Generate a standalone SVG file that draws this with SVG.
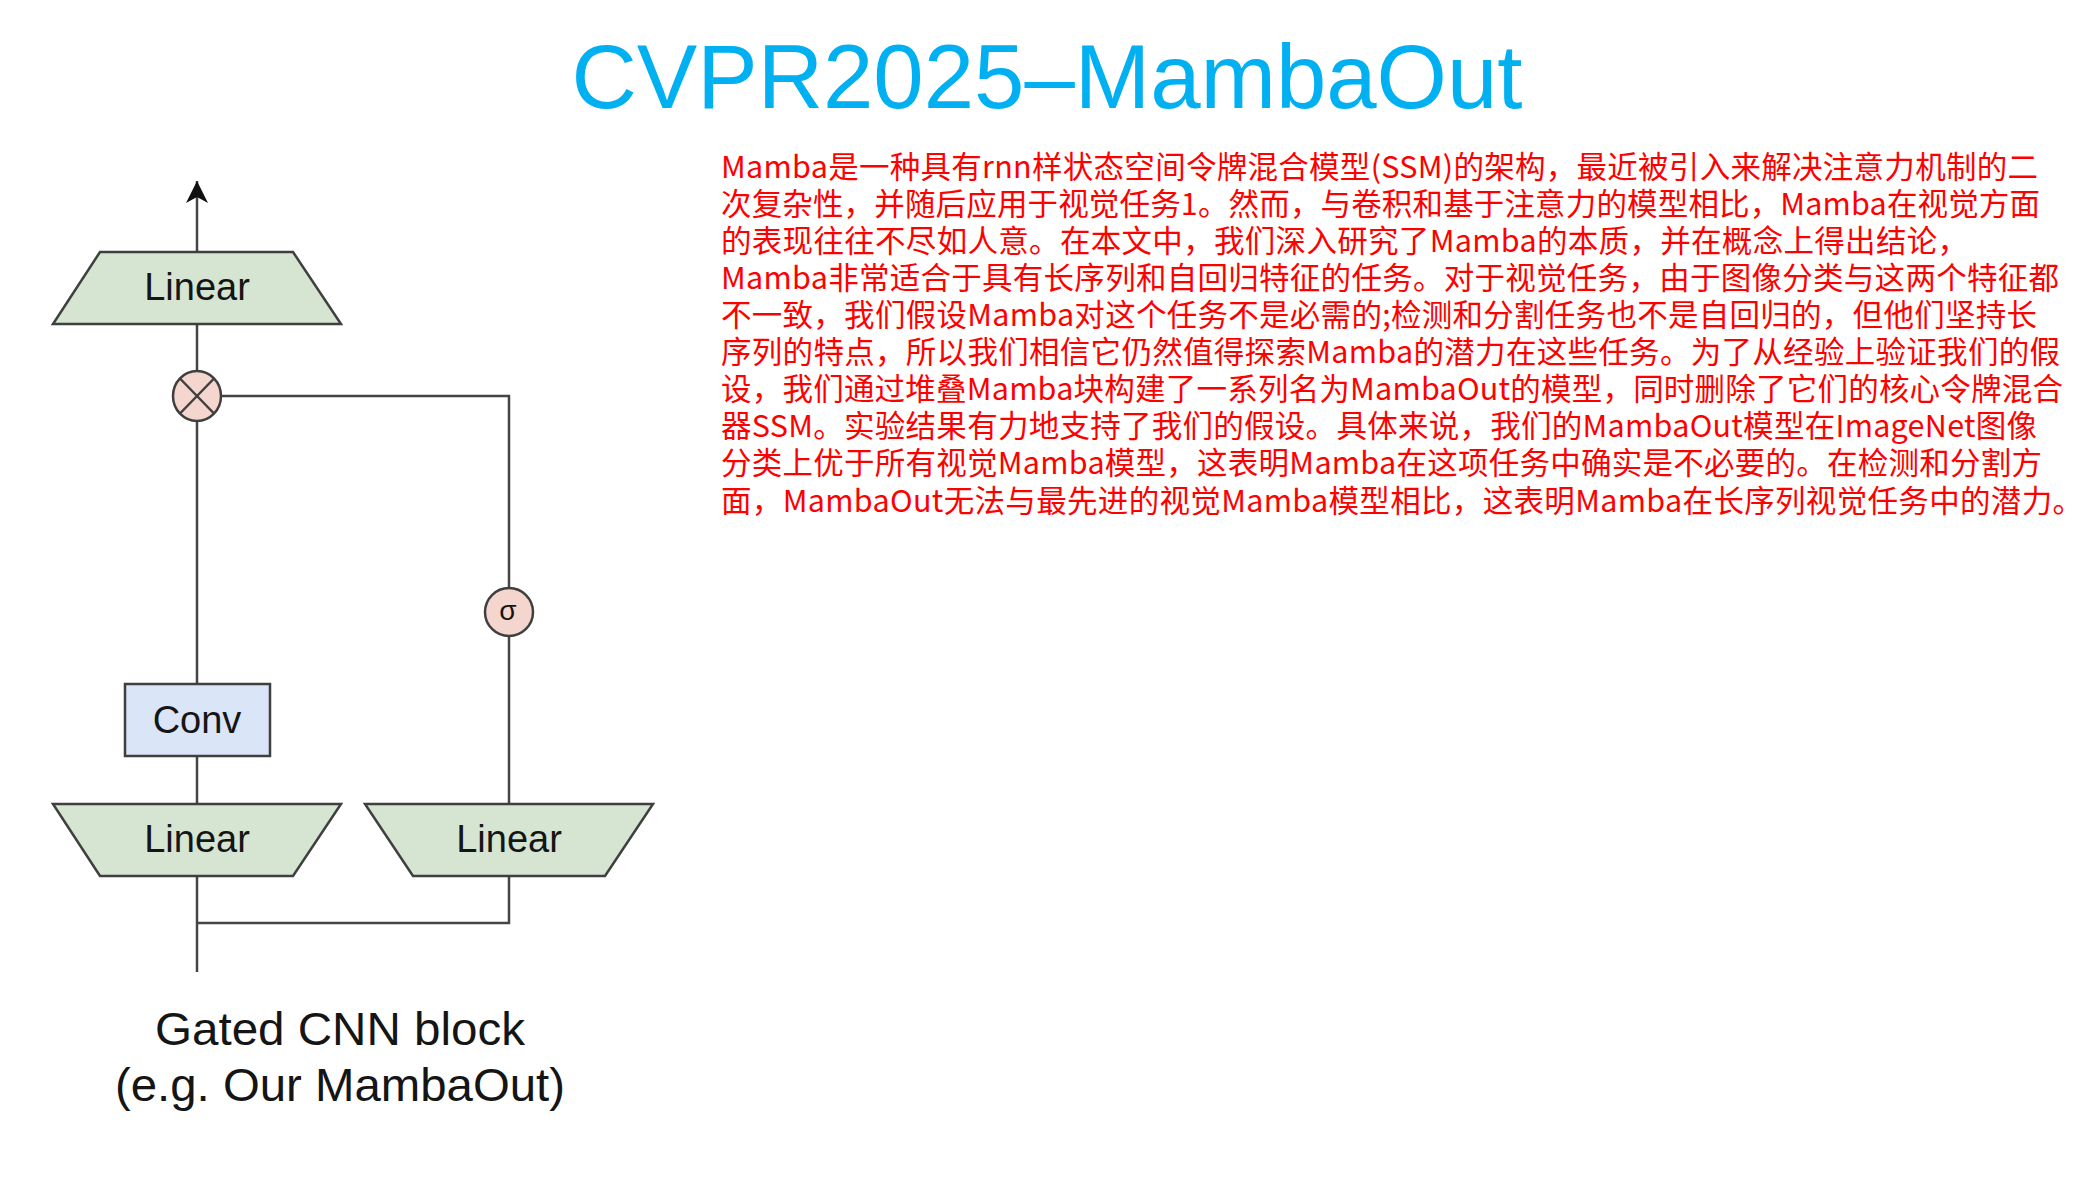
<svg xmlns="http://www.w3.org/2000/svg" width="2094" height="1184" viewBox="0 0 2094 1184">
<style>
.shape{stroke:#3f3f3f;stroke-width:2.5}
.lin{fill:#d6e5d2}
.conv{fill:#dae5f8}
.op{fill:#f5d6cf}
.lbl{font-family:"Liberation Sans",Arial,sans-serif;font-size:38px;fill:#151515;text-anchor:middle}
.cap{font-family:"Liberation Sans",Arial,sans-serif;font-size:46px;fill:#151515;text-anchor:middle}
.wire{stroke:#454545;stroke-width:2.5;fill:none}
.para{font-family:"Noto Sans CJK SC","Noto Sans",sans-serif;font-size:30.5px;fill:#ff0000}
.title{font-family:"Liberation Sans",Arial,sans-serif;font-size:91px;fill:#00b0f0;text-anchor:middle}
</style>
<defs>
<marker id="arrow" viewBox="0 0 22 22" refX="22" refY="11" markerWidth="22" markerHeight="22" markerUnits="userSpaceOnUse" orient="auto">
<path d="M0,0 L22,11 L0,22 L6,11 Z" fill="#111"/>
</marker>
</defs>
<rect width="2094" height="1184" fill="#ffffff"/>

<text class="title" x="1047" y="108" textLength="951" lengthAdjust="spacingAndGlyphs">CVPR2025–MambaOut</text>

<g id="connectors">
<line class="wire" x1="197" y1="252" x2="197" y2="181" marker-end="url(#arrow)"/>
<line class="wire" x1="197" y1="324" x2="197" y2="371"/>
<polyline class="wire" points="222,396 509,396 509,588"/>
<line class="wire" x1="197" y1="421" x2="197" y2="684"/>
<line class="wire" x1="197" y1="756" x2="197" y2="804"/>
<line class="wire" x1="509" y1="636" x2="509" y2="804"/>
<line class="wire" x1="197" y1="876" x2="197" y2="972"/>
<polyline class="wire" points="197,923 509,923 509,876"/>
</g>

<g id="linear-top">
<polygon class="shape lin" points="100,252 293,252 341,324 53,324"/>
<text class="lbl" x="197" y="300">Linear</text>
</g>
<g id="multiply">
<ellipse class="shape op" cx="197" cy="396" rx="24" ry="25"/>
<line class="shape" x1="180" y1="378.5" x2="214" y2="413.5"/>
<line class="shape" x1="214" y1="378.5" x2="180" y2="413.5"/>
</g>
<g id="sigma">
<ellipse class="shape op" cx="509" cy="612" rx="24" ry="24"/>
<text class="lbl" x="508" y="620" style="font-size:28px">σ</text>
</g>
<g id="conv">
<rect class="shape conv" x="125" y="684" width="145" height="72"/>
<text class="lbl" x="197" y="733">Conv</text>
</g>
<g id="linear-left">
<polygon class="shape lin" points="53,804 341,804 293,876 100,876"/>
<text class="lbl" x="197" y="852">Linear</text>
</g>
<g id="linear-right">
<polygon class="shape lin" points="365,804 653,804 605,876 413,876"/>
<text class="lbl" x="509" y="852">Linear</text>
</g>
<g id="caption">
<text class="cap" x="340" y="1045" textLength="370" lengthAdjust="spacingAndGlyphs">Gated CNN block</text>
<text class="cap" x="340" y="1101" textLength="450" lengthAdjust="spacingAndGlyphs">(e.g. Our MambaOut)</text>
</g>

<g id="description">
<text class="para" x="721" y="178" textLength="1317" lengthAdjust="spacing">Mamba是一种具有rnn样状态空间令牌混合模型(SSM)的架构，最近被引入来解决注意力机制的二</text>
<text class="para" x="721" y="215" textLength="1319" lengthAdjust="spacing">次复杂性，并随后应用于视觉任务1。然而，与卷积和基于注意力的模型相比，Mamba在视觉方面</text>
<text class="para" x="721" y="252" textLength="1247" lengthAdjust="spacing">的表现往往不尽如人意。在本文中，我们深入研究了Mamba的本质，并在概念上得出结论，</text>
<text class="para" x="721" y="289" textLength="1338" lengthAdjust="spacing">Mamba非常适合于具有长序列和自回归特征的任务。对于视觉任务，由于图像分类与这两个特征都</text>
<text class="para" x="721" y="326" textLength="1316" lengthAdjust="spacing">不一致，我们假设Mamba对这个任务不是必需的;检测和分割任务也不是自回归的，但他们坚持长</text>
<text class="para" x="721" y="363" textLength="1339" lengthAdjust="spacing">序列的特点，所以我们相信它仍然值得探索Mamba的潜力在这些任务。为了从经验上验证我们的假</text>
<text class="para" x="721" y="400" textLength="1342" lengthAdjust="spacing">设，我们通过堆叠Mamba块构建了一系列名为MambaOut的模型，同时删除了它们的核心令牌混合</text>
<text class="para" x="721" y="437" textLength="1316" lengthAdjust="spacing">器SSM。实验结果有力地支持了我们的假设。具体来说，我们的MambaOut模型在ImageNet图像</text>
<text class="para" x="721" y="474" textLength="1321" lengthAdjust="spacing">分类上优于所有视觉Mamba模型，这表明Mamba在这项任务中确实是不必要的。在检测和分割方</text>
<text class="para" x="721" y="512" textLength="1362" lengthAdjust="spacing">面，MambaOut无法与最先进的视觉Mamba模型相比，这表明Mamba在长序列视觉任务中的潜力。</text>
</g>
</svg>
